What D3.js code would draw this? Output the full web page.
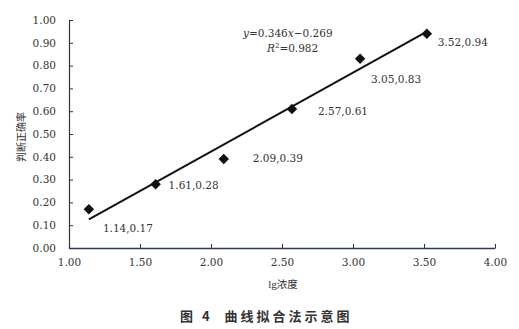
<!DOCTYPE html>
<html>
<head>
<meta charset="utf-8">
<script src="https://cdn.jsdelivr.net/npm/d3@7"></script>
<style>
body { margin: 0; background: #fff; }
text { font-family: "DejaVu Serif", "Liberation Serif", serif; fill: #333; }
.cjk { font-family: "Noto Sans CJK SC", sans-serif; }
</style>
</head>
<body>
<div id="chart"></div>
<script>
var lgConc = [1.14, 1.61, 2.09, 2.57, 3.05, 3.52];
var accuracy = [0.17, 0.28, 0.39, 0.61, 0.83, 0.94];
// label offsets (px) from each point, as placed in the figure
var labelDx = [14, 13, 29, 26, 11, 11];
var labelDy = [19, 1, -1, 2, 21, 9];
var xTicks = [1.00, 1.50, 2.00, 2.50, 3.00, 3.50, 4.00];
var yTicks = [0, 0.1, 0.2, 0.3, 0.4, 0.5, 0.6, 0.7, 0.8, 0.9, 1.0];
var slope = 0.346, intercept = -0.269, r2 = 0.982;

var width = 519, height = 329;
var margin = { top: 20, right: 24, bottom: 81, left: 69 };
var w = width - margin.left - margin.right,
    h = height - margin.top - margin.bottom;

var svg = d3.select("#chart").append("svg")
    .attr("width", width)
    .attr("height", height);

var g = svg.append("g")
    .attr("transform", "translate(" + margin.left + "," + margin.top + ")");

var x = d3.scaleLinear().domain([1, 4]).range([0, w]);
var y = d3.scaleLinear().domain([0, 1]).range([h, 0]);

var xAxis = d3.axisBottom(x).tickValues(xTicks).tickFormat(d3.format(".2f"))
    .tickSizeInner(-4).tickSizeOuter(0).tickPadding(11);
var yAxis = d3.axisLeft(y).tickValues(yTicks).tickFormat(d3.format(".2f"))
    .tickSizeInner(-4).tickSizeOuter(0).tickPadding(13);

var gx = g.append("g")
    .attr("transform", "translate(0," + h + ")")
    .call(xAxis);
gx.select(".domain").attr("stroke", "#2c3a66").attr("stroke-width", 1.5);
gx.selectAll(".tick line").attr("stroke", "#333");
gx.selectAll("text").attr("font-size", 10.5).attr("fill", "#444");

var gy = g.append("g").call(yAxis);
gy.select(".domain").attr("stroke", "#333").attr("stroke-width", 1.2);
gy.selectAll(".tick line").attr("stroke", "#333");
gy.selectAll("text").attr("font-size", 10.5).attr("fill", "#444");

// fitted line
var x0 = d3.min(lgConc), x1 = d3.max(lgConc);
g.append("line")
    .attr("x1", x(x0)).attr("y1", y(slope * x0 + intercept))
    .attr("x2", x(x1)).attr("y2", y(slope * x1 + intercept))
    .attr("stroke", "#111")
    .attr("stroke-width", 2);

var pts = lgConc.map(function(d, i){ return { x: d, y: accuracy[i], dx: labelDx[i], dy: labelDy[i] }; });

g.selectAll(".pt").data(pts).enter().append("path")
    .attr("class", "pt")
    .attr("d", d3.symbol().type(d3.symbolDiamond2).size(70))
    .attr("transform", function(d){ return "translate(" + x(d.x) + "," + y(d.y) + ")"; })
    .attr("fill", "#111");

var fmt = d3.format(".2f");
g.selectAll(".lbl").data(pts).enter().append("text")
    .attr("class", "lbl")
    .attr("x", function(d){ return x(d.x) + d.dx; })
    .attr("y", function(d){ return y(d.y) + d.dy; })
    .attr("dy", "0.35em")
    .attr("font-size", 10.5)
    .attr("fill", "#444")
    .text(function(d){ return fmt(d.x) + "," + fmt(d.y); });

// equation
var eq = g.append("text")
    .attr("x", 174).attr("y", 13)
    .attr("dy", "0.35em")
    .attr("font-size", 10.5)
    .attr("fill", "#555");
eq.append("tspan").attr("font-style", "italic").text("y");
eq.append("tspan").text("=" + slope);
eq.append("tspan").attr("font-style", "italic").text("x");
eq.append("tspan").text("\u2212" + Math.abs(intercept));

var r = g.append("text")
    .attr("x", 198).attr("y", 28)
    .attr("dy", "0.35em")
    .attr("font-size", 10.5)
    .attr("fill", "#555");
r.append("tspan").attr("font-style", "italic").text("R");
r.append("tspan").attr("font-size", 7).attr("dy", "-4").text("2");
r.append("tspan").attr("dy", "4").text("=" + r2);

// axis titles
svg.append("text")
    .attr("class", "cjk")
    .attr("transform", "translate(21,137) rotate(-90)")
    .attr("text-anchor", "middle")
    .attr("dy", "0.35em")
    .attr("font-size", 10)
    .attr("fill", "#444")
    .text("判断正确率");

svg.append("text")
    .attr("x", 283).attr("y", 288)
    .attr("text-anchor", "middle")
    .attr("font-size", 11)
    .attr("fill", "#444")
    .html('<tspan font-family="Liberation Serif, serif">lg</tspan><tspan class="cjk" font-size="10.5">浓度</tspan>');

svg.append("text")
    .attr("class", "cjk")
    .attr("x", 180).attr("y", 321)
    .attr("font-size", 13)
    .attr("font-weight", "bold")
    .attr("letter-spacing", 3)
    .attr("fill", "#333")
    .attr("xml:space", "preserve")
    .text("图 4  曲线拟合法示意图");
</script>
</body>
</html>
